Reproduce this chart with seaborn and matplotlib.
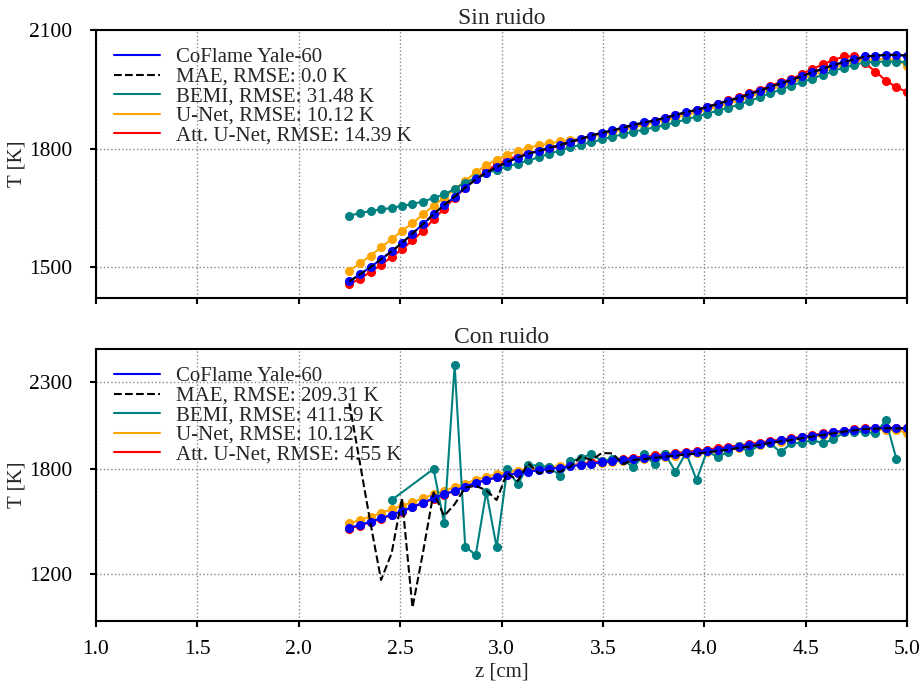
import matplotlib
matplotlib.use("Agg")
import matplotlib.pyplot as plt
from matplotlib.lines import Line2D
import numpy as np
import pandas as pd
import seaborn as sns

# Axial positions along the flame centreline [cm]
z = [2.250, 2.302, 2.354, 2.406, 2.458, 2.509, 2.561, 2.613, 2.665, 2.717,
     2.769, 2.821, 2.873, 2.925, 2.976, 3.028, 3.080, 3.132, 3.184, 3.236,
     3.288, 3.340, 3.392, 3.443, 3.495, 3.547, 3.599, 3.651, 3.703, 3.755,
     3.807, 3.858, 3.910, 3.962, 4.014, 4.066, 4.118, 4.170, 4.222, 4.274,
     4.325, 4.377, 4.429, 4.481, 4.533, 4.585, 4.637, 4.689, 4.741, 4.792,
     4.844, 4.896, 4.948, 5.000]

# Reference temperature (CoFlame, Yale-60 flame) [K]
t_coflame = [1464, 1482, 1500, 1520, 1540, 1561, 1585, 1609, 1634, 1657,
             1678, 1701, 1722, 1739, 1753, 1766, 1777, 1787, 1794, 1802,
             1809, 1817, 1825, 1833, 1840, 1846, 1853, 1860, 1866, 1871,
             1878, 1885, 1892, 1898, 1905, 1913, 1921, 1928, 1938, 1946,
             1956, 1965, 1973, 1983, 1993, 2002, 2011, 2019, 2026, 2033,
             2035, 2037, 2037, 2035]

# --- Noise-free reconstructions ---
t_mae_clean = list(t_coflame)
t_bemi_clean = [1630, 1637, 1642, 1646, 1650, 1655, 1660, 1666, 1675, 1684,
                1698, 1714, 1726, 1737, 1747, 1755, 1762, 1770, 1778, 1787,
                1795, 1803, 1810, 1816, 1823, 1830, 1836, 1843, 1848, 1854,
                1860, 1866, 1874, 1881, 1888, 1896, 1903, 1911, 1920, 1930,
                1940, 1949, 1959, 1968, 1977, 1987, 1996, 2005, 2012, 2018,
                2019, 2020, 2020, 2019]
t_unet = [1491, 1510, 1529, 1550, 1571, 1592, 1611, 1634, 1656, 1676,
          1697, 1718, 1740, 1758, 1772, 1785, 1793, 1802, 1808, 1813,
          1818, 1822, 1825, 1830, 1836, 1842, 1848, 1854, 1860, 1866,
          1872, 1878, 1885, 1892, 1899, 1906, 1914, 1922, 1931, 1940,
          1949, 1958, 1967, 1976, 1986, 1995, 2004, 2012, 2019, 2024,
          2026, 2026, 2024, 2010]
t_att_clean = [1457, 1471, 1488, 1506, 1526, 1545, 1568, 1592, 1621, 1648,
               1676, 1701, 1724, 1743, 1760, 1772, 1781, 1789, 1793, 1800,
               1807, 1815, 1823, 1831, 1838, 1844, 1851, 1858, 1864, 1870,
               1877, 1884, 1891, 1898, 1906, 1914, 1922, 1930, 1940, 1949,
               1959, 1968, 1976, 1988, 2001, 2013, 2024, 2033, 2033, 2016,
               1995, 1972, 1955, 1943]

# --- Reconstructions from noisy signals ---
t_mae_noisy = [2178, 1834, 1490, 1166, 1319, 1634, 1008, 1325, 1667, 1533,
               1600, 1695, 1705, 1680, 1624, 1780, 1733, 1834, 1777, 1790,
               1786, 1815, 1874, 1853, 1893, 1891, 1831, 1853, 1858, 1866,
               1872, 1878, 1885, 1890, 1896, 1905, 1912, 1922, 1930, 1940,
               1951, 1960, 1968, 1978, 1988, 1996, 2006, 2016, 2023, 2030,
               2033, 2035, 2035, 2033]
# BEMI returns no valid value at the first positions: only these indices exist
bemi_noisy_idx = [4] + list(range(8, 53))
t_bemi_noisy = [1624, 1802, 1490, 2398, 1357, 1309, 1672, 1353, 1800, 1714,
                1824, 1821, 1812, 1764, 1845, 1865, 1887, 1848, 1858, 1855,
                1811, 1888, 1828, 1888, 1786, 1895, 1739, 1905, 1869, 1901,
                1935, 1897, 1943, 1949, 1897, 1949, 1952, 1968, 1949, 1972,
                2012, 2015, 2015, 2006, 2080, 1858]
t_att_noisy = [1460, 1478, 1497, 1517, 1537, 1558, 1582, 1606, 1631, 1654,
               1676, 1700, 1721, 1739, 1754, 1768, 1780, 1791, 1799, 1807,
               1815, 1823, 1831, 1839, 1846, 1853, 1860, 1867, 1873, 1879,
               1886, 1893, 1900, 1906, 1913, 1921, 1929, 1936, 1945, 1953,
               1962, 1970, 1978, 1987, 1996, 2005, 2014, 2021, 2028, 2034,
               2036, 2037, 2036, 2034]

labels_clean = ["CoFlame Yale-60", "MAE, RMSE: 0.0 K", "BEMI, RMSE: 31.48 K",
                "U-Net, RMSE: 10.12 K", "Att. U-Net, RMSE: 14.39 K"]
labels_noisy = ["CoFlame Yale-60", "MAE, RMSE: 209.31 K", "BEMI, RMSE: 411.59 K",
                "U-Net, RMSE: 10.12 K", "Att. U-Net, RMSE: 4.55 K"]
colors = ["#0000ff", "#000000", "#008080", "#ffa500", "#ff0000"]

sns.set_theme(style="ticks")
plt.rcParams["font.family"] = ["Liberation Serif", "DejaVu Serif"]
plt.rcParams["axes.edgecolor"] = "black"
plt.rcParams["xtick.color"] = "black"
plt.rcParams["ytick.color"] = "black"

fig = plt.figure(figsize=(9.24, 6.85), dpi=100)
W, H = 924, 685
ax1 = fig.add_axes([96 / W, 1 - 298 / H, 811 / W, 268 / H])
ax2 = fig.add_axes([96 / W, 1 - 621 / H, 811 / W, 272 / H], sharex=ax1)


def draw(ax, series, labels, title, ylim, yticks):
    # series: list of (z, T, color, dashed, zorder)
    for zz, tt, col, dashed, zo in series:
        df = pd.DataFrame({"z": zz, "T": tt})
        if dashed:
            sns.lineplot(data=df, x="z", y="T", ax=ax, color=col, lw=1.5,
                         linestyle="--", zorder=zo, legend=False, sort=False)
        else:
            sns.lineplot(data=df, x="z", y="T", ax=ax, color=col, lw=1.5,
                         marker="o", markersize=5.5, markeredgecolor=col,
                         markeredgewidth=1, zorder=zo, legend=False, sort=False)
    handles = [Line2D([0], [0], color=c, lw=1.5, linestyle="--" if c == "#000000" else "-")
               for c in colors]
    leg = ax.legend(handles, labels, loc="upper left", frameon=False, fontsize=15,
                    handlelength=2.2, labelspacing=0.0, handletextpad=0.8,
                    borderaxespad=0.45)
    leg.set_zorder(1.5)
    ax.set_title(title, fontsize=17, pad=4)
    ax.set_xlim(1.0, 5.0)
    ax.set_ylim(*ylim)
    ax.set_yticks(yticks)
    ax.set_xticks(np.arange(1.0, 5.01, 0.5))
    ax.set_ylabel("T [K]", fontsize=15, labelpad=2)
    ax.set_xlabel("")
    ax.grid(True, linestyle=":", color="#888888", lw=1)
    for s in ax.spines.values():
        s.set_linewidth(1.5)
        s.set_color("black")
    ax.tick_params(direction="out", length=4, width=1.5, labelsize=15.5)
    ax.tick_params(axis="y", pad=13)
    ax.tick_params(axis="x", pad=10)


bemi_noisy_z = [z[i] for i in bemi_noisy_idx]

draw(ax1,
     [(z, t_att_clean, colors[4], False, 2.0),
      (z, t_unet, colors[3], False, 2.1),
      (z, t_bemi_clean, colors[2], False, 2.2),
      (z, t_coflame, colors[0], False, 2.3),
      (z, t_mae_clean, colors[1], True, 2.4)],
     labels_clean, "Sin ruido", (1422, 2100), [1500, 1800, 2100])

draw(ax2,
     [(z, t_att_noisy, colors[4], False, 2.0),
      (z, t_unet, colors[3], False, 2.1),
      (bemi_noisy_z, t_bemi_noisy, colors[2], False, 2.2),
      (z, t_coflame, colors[0], False, 2.3),
      (z, t_mae_noisy, colors[1], True, 2.4)],
     labels_noisy, "Con ruido", (931, 2489), [1200, 1800, 2300])

ax1.tick_params(labelbottom=False)
ax2.set_xlabel("z [cm]", fontsize=15, labelpad=2)

fig.savefig("out.png", dpi=100)
